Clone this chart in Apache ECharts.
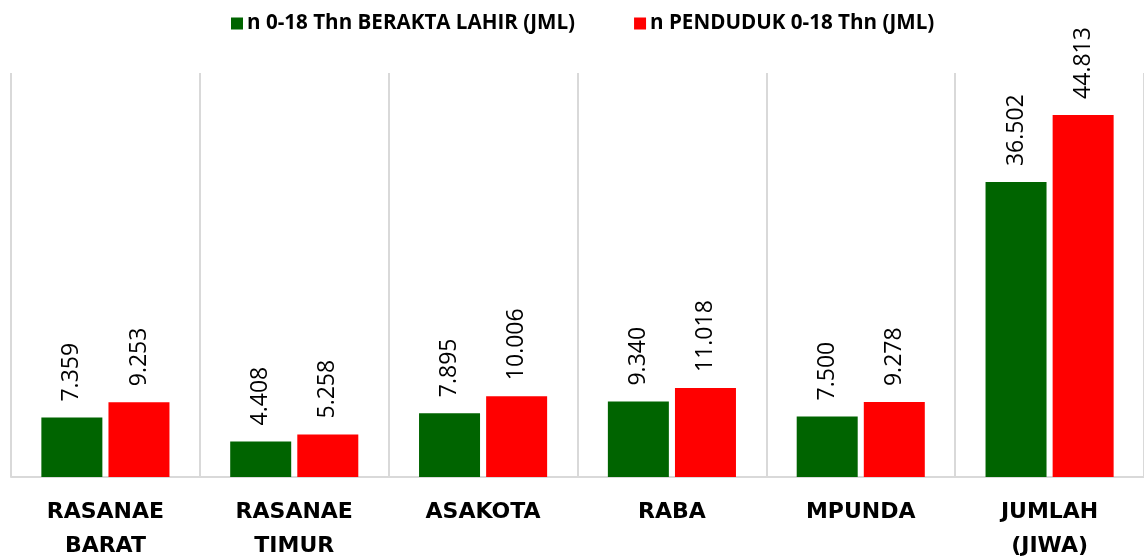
<!DOCTYPE html>
<html>
<head>
<meta charset="utf-8">
<script src="https://cdn.jsdelivr.net/npm/echarts@6/dist/echarts.min.js"></script>
<style>html,body{margin:0;padding:0;background:#fff}#c{width:1144px;height:558px}</style>
</head>
<body>
<div id="c"></div>
<script>
var categories = ['RASANAE\nBARAT', 'RASANAE\nTIMUR', 'ASAKOTA', 'RABA', 'MPUNDA', 'JUMLAH\n(JIWA)'];
var seriesNames = ['n 0-18 Thn BERAKTA LAHIR (JML)', 'n PENDUDUK 0-18 Thn (JML)'];
var beraktaLahir = [7359, 4408, 7895, 9340, 7500, 36502];
var penduduk = [9253, 5258, 10006, 11018, 9278, 44813];

function fmt(v) {
  return String(v).replace(/\B(?=(\d{3})+(?!\d))/g, '.');
}

var chart = echarts.init(document.getElementById('c'));
var labelCfg = {
  show: true,
  position: 'top',
  rotate: 90,
  align: 'left',
  verticalAlign: 'middle',
  distance: 16,
  fontFamily: 'Open Sans',
  fontSize: 23,
  color: '#000',
  formatter: function (p) { return fmt(p.value); }
};
chart.setOption({
  animation: false,
  legend: {
    top: 8,
    left: 226,
    itemWidth: 12,
    itemHeight: 12,
    itemGap: 59,
    icon: 'rect',
    textStyle: { fontFamily: 'Open Sans', fontWeight: 'bold', fontSize: 20.6, color: '#000', padding: [0, 0, 0, -1] },
    data: seriesNames
  },
  grid: { left: 11, right: 0, top: 73, bottom: 81, containLabel: false, outerBoundsMode: 'none' },
  xAxis: {
    type: 'category',
    data: categories,
    boundaryGap: true,
    axisLine: { show: true, lineStyle: { color: '#d9d9d9', width: 2 } },
    axisTick: { show: false },
    splitLine: { show: true, lineStyle: { color: '#d9d9d9', width: 2 } },
    axisLabel: {
      interval: 0,
      margin: 18,
      fontFamily: 'DejaVu Sans',
      fontWeight: 'bold',
      fontSize: 22,
      lineHeight: 34,
      color: '#000'
    }
  },
  yAxis: {
    type: 'value',
    min: 0,
    max: 50000,
    interval: 10000,
    show: false,
    splitLine: { show: false }
  },
  series: [
    {
      name: seriesNames[0],
      type: 'bar',
      data: beraktaLahir,
      barWidth: 61,
      barGap: '10%',
      itemStyle: { color: '#006400' },
      label: labelCfg
    },
    {
      name: seriesNames[1],
      type: 'bar',
      data: penduduk,
      barWidth: 61,
      barGap: '10%',
      itemStyle: { color: '#ff0000' },
      label: labelCfg
    }
  ]
});
</script>
</body>
</html>
